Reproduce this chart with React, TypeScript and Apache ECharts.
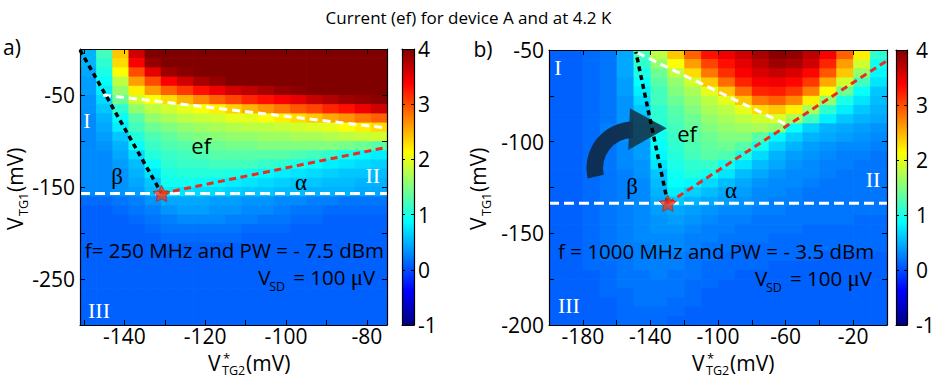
import React, { useEffect, useRef } from 'react';
import * as echarts from 'echarts';

const FONT = '"Open Sans", "Noto Sans", sans-serif';
const SERIF = '"Liberation Serif", "DejaVu Serif", serif';

const TITLE = 'Current (ef) for device A and at 4.2 K';

// colour scale (MATLAB jet)
const C_RANGE = [-1, 4];
const C_TICKS = [0, 1, 2, 3];
const C_LABELS = [-1, 0, 1, 2, 3, 4];
const JET = ['#000080', '#0000ff', '#0080ff', '#00ffff', '#80ff80', '#ffff00', '#ff8000', '#ff0000', '#800000'];

// ---------------- panel a ----------------
const A_X_RANGE = [-151, -75];
const A_Y_RANGE = [-300, 0];
const A_X_TICKS = [-150, -140, -130, -120, -110, -100, -90, -80];
const A_X_LABELS = [-140, -120, -100, -80];
const A_Y_TICKS = [-250, -200, -150, -100, -50];
const A_Y_LABELS = [-250, -150, -50];
const A_CELL_X = [-149, -145, -141, -137, -133, -129, -125, -121, -117, -113, -109, -105, -101, -97, -93, -89, -85, -81, -77];
const A_CELL_Y = [-5, -15, -25, -35, -45, -55, -65, -75, -85, -95, -105, -115, -125, -135, -145, -155, -165, -175, -185, -195, -205, -215, -225, -235, -245, -255, -265, -275, -285, -295];
const A_CELL_SIZE = [4, 10];
const A_CURRENT = [
  [0.5, 1.2, 2.4, 3.6, 4, 4, 4, 4, 4, 4, 4, 4, 4, 4, 4, 4, 4, 4, 4],
  [0.5, 1.1, 2.3, 3.4, 3.9, 4, 4, 4, 4, 4, 4, 4, 4, 4, 4, 4, 4, 4, 4],
  [0.45, 1.0, 2.1, 3.0, 3.5, 3.85, 3.95, 4, 4, 4, 4, 4, 4, 4, 4, 4, 4, 4, 4],
  [0.4, 0.9, 1.8, 2.6, 3.0, 3.4, 3.6, 3.8, 3.9, 4, 4, 4, 4, 4, 4, 4, 4, 4, 4],
  [0.4, 0.8, 1.6, 2.2, 2.6, 2.9, 3.1, 3.3, 3.45, 3.6, 3.7, 3.8, 3.9, 3.95, 4, 4, 4, 4, 4],
  [0.35, 0.7, 1.4, 1.9, 2.1, 2.3, 2.5, 2.7, 2.9, 3.05, 3.2, 3.3, 3.4, 3.5, 3.65, 3.75, 3.85, 3.9, 3.95],
  [0.35, 0.6, 1.1, 1.6, 1.8, 1.9, 2.0, 2.1, 2.2, 2.35, 2.5, 2.65, 2.8, 2.95, 3.05, 3.2, 3.3, 3.45, 3.6],
  [0.3, 0.5, 0.9, 1.3, 1.6, 1.7, 1.8, 1.85, 1.9, 2.0, 2.0, 2.1, 2.2, 2.3, 2.4, 2.55, 2.65, 2.8, 2.9],
  [0.3, 0.45, 0.8, 1.2, 1.4, 1.5, 1.6, 1.65, 1.7, 1.75, 1.8, 1.8, 1.85, 1.9, 1.95, 2.0, 2.1, 2.2, 2.3],
  [0.3, 0.4, 0.6, 1.05, 1.25, 1.35, 1.45, 1.5, 1.55, 1.6, 1.6, 1.65, 1.65, 1.7, 1.7, 1.75, 1.8, 1.85, 1.9],
  [0.3, 0.35, 0.5, 0.9, 1.15, 1.25, 1.3, 1.35, 1.4, 1.45, 1.45, 1.5, 1.5, 1.5, 1.5, 1.5, 1.45, 1.4, 1.3],
  [0.3, 0.3, 0.45, 0.7, 1.05, 1.15, 1.2, 1.25, 1.3, 1.3, 1.3, 1.3, 1.3, 1.25, 1.2, 1.1, 0.95, 0.85, 0.8],
  [0.3, 0.3, 0.4, 0.55, 0.9, 1.1, 1.15, 1.15, 1.2, 1.2, 1.2, 1.15, 1.1, 1.0, 0.9, 0.8, 0.75, 0.7, 0.65],
  [0.3, 0.3, 0.35, 0.5, 0.75, 1.0, 1.05, 1.05, 1.05, 1.0, 0.95, 0.85, 0.8, 0.75, 0.7, 0.65, 0.6, 0.6, 0.55],
  [0.3, 0.3, 0.35, 0.45, 0.6, 0.95, 0.95, 0.9, 0.85, 0.8, 0.75, 0.7, 0.65, 0.6, 0.6, 0.55, 0.55, 0.5, 0.5],
  [0.3, 0.3, 0.35, 0.4, 0.55, 0.8, 0.75, 0.7, 0.7, 0.65, 0.6, 0.6, 0.55, 0.55, 0.5, 0.5, 0.5, 0.45, 0.45],
  [0.15, 0.15, 0.2, 0.25, 0.35, 0.45, 0.45, 0.45, 0.4, 0.4, 0.35, 0.35, 0.3, 0.3, 0.25, 0.25, 0.2, 0.2, 0.2],
  [0.1, 0.1, 0.15, 0.2, 0.25, 0.35, 0.4, 0.4, 0.35, 0.35, 0.3, 0.3, 0.25, 0.2, 0.2, 0.15, 0.15, 0.15, 0.15],
  [0.1, 0.1, 0.1, 0.15, 0.2, 0.25, 0.3, 0.3, 0.3, 0.25, 0.25, 0.2, 0.2, 0.15, 0.15, 0.1, 0.1, 0.1, 0.1],
  [0.1, 0.1, 0.1, 0.1, 0.15, 0.2, 0.2, 0.2, 0.2, 0.2, 0.15, 0.15, 0.15, 0.1, 0.1, 0.1, 0.1, 0.1, 0.1],
  [0.1, 0.1, 0.1, 0.1, 0.1, 0.15, 0.15, 0.15, 0.15, 0.15, 0.1, 0.1, 0.1, 0.1, 0.1, 0.1, 0.1, 0.1, 0.1],
  [0.1, 0.1, 0.1, 0.1, 0.1, 0.1, 0.1, 0.1, 0.1, 0.1, 0.1, 0.1, 0.1, 0.1, 0.1, 0.1, 0.1, 0.1, 0.1],
  [0.1, 0.1, 0.1, 0.1, 0.1, 0.1, 0.1, 0.1, 0.1, 0.1, 0.1, 0.1, 0.1, 0.1, 0.1, 0.1, 0.1, 0.1, 0.1],
  [0.1, 0.1, 0.1, 0.1, 0.1, 0.1, 0.1, 0.1, 0.1, 0.1, 0.1, 0.1, 0.1, 0.1, 0.1, 0.1, 0.1, 0.1, 0.1],
  [0.1, 0.1, 0.1, 0.1, 0.1, 0.1, 0.1, 0.1, 0.1, 0.1, 0.1, 0.1, 0.1, 0.1, 0.1, 0.1, 0.1, 0.1, 0.1],
  [0.1, 0.1, 0.1, 0.1, 0.1, 0.1, 0.1, 0.1, 0.1, 0.1, 0.1, 0.1, 0.1, 0.1, 0.1, 0.1, 0.1, 0.1, 0.1],
  [0.1, 0.1, 0.1, 0.1, 0.1, 0.1, 0.1, 0.1, 0.1, 0.1, 0.1, 0.1, 0.1, 0.1, 0.1, 0.1, 0.1, 0.1, 0.1],
  [0.1, 0.1, 0.1, 0.1, 0.1, 0.1, 0.1, 0.1, 0.1, 0.1, 0.1, 0.1, 0.1, 0.1, 0.1, 0.1, 0.1, 0.1, 0.1],
  [0.1, 0.1, 0.1, 0.1, 0.1, 0.1, 0.1, 0.1, 0.1, 0.1, 0.1, 0.1, 0.1, 0.1, 0.1, 0.1, 0.1, 0.1, 0.1],
  [0.1, 0.1, 0.1, 0.1, 0.1, 0.1, 0.1, 0.1, 0.1, 0.1, 0.1, 0.1, 0.1, 0.1, 0.1, 0.1, 0.1, 0.1, 0.1],
];
const A_BETA = [[-151, -1], [-130.8, -157]];
const A_UPPER = [[-145.3, -50], [-75, -85.9]];
const A_ALPHA = [[-130.8, -157], [-75, -106.8]];
const A_FLOOR = [[-151, -157], [-75, -157]];
const A_STAR = [[-130.8, -157]];

// ---------------- panel b ----------------
const B_X_RANGE = [-200, 0];
const B_Y_RANGE = [-200, -50];
const B_X_TICKS = [-180, -160, -140, -120, -100, -80, -60, -40, -20];
const B_X_LABELS = [-180, -140, -100, -60, -20];
const B_Y_TICKS = [-175, -150, -125, -100, -75];
const B_Y_LABELS = [-200, -150, -100, -50];
const B_CELL_X = [-195, -185, -175, -165, -155, -145, -135, -125, -115, -105, -95, -85, -75, -65, -55, -45, -35, -25, -15, -5];
const B_CELL_Y = [-52.5, -57.5, -62.5, -67.5, -72.5, -77.5, -82.5, -87.5, -92.5, -97.5, -102.5, -107.5, -112.5, -117.5, -122.5, -127.5, -132.5, -137.5, -142.5, -147.5, -152.5, -157.5, -162.5, -167.5, -172.5, -177.5, -182.5, -187.5, -192.5, -197.5];
const B_CELL_SIZE = [10, 5];
const B_CURRENT = [
  [0.1, 0.1, 0.15, 0.2, 0.45, 1.2, 1.8, 2.4, 2.9, 3.3, 3.45, 3.6, 3.8, 3.95, 3.9, 3.7, 3.4, 2.9, 2.2, 1.1],
  [0.1, 0.1, 0.15, 0.2, 0.45, 1.1, 1.6, 2.1, 2.6, 3.05, 3.3, 3.5, 3.7, 3.85, 3.8, 3.6, 3.2, 2.6, 1.9, 0.95],
  [0.1, 0.1, 0.15, 0.2, 0.45, 1.0, 1.4, 1.8, 2.3, 2.8, 3.15, 3.4, 3.55, 3.65, 3.55, 3.35, 2.95, 2.4, 1.6, 0.85],
  [0.1, 0.1, 0.15, 0.2, 0.4, 0.9, 1.3, 1.6, 1.9, 2.4, 2.85, 3.2, 3.4, 3.45, 3.35, 3.1, 2.55, 1.9, 1.2, 0.75],
  [0.1, 0.1, 0.15, 0.2, 0.4, 0.8, 1.2, 1.5, 1.7, 2.0, 2.4, 2.85, 3.2, 3.25, 3.1, 2.75, 2.1, 1.4, 0.9, 0.6],
  [0.1, 0.1, 0.15, 0.2, 0.35, 0.7, 1.2, 1.4, 1.6, 1.8, 2.0, 2.4, 2.8, 2.9, 2.7, 2.2, 1.6, 1.0, 0.75, 0.55],
  [0.1, 0.1, 0.15, 0.2, 0.35, 0.6, 1.1, 1.3, 1.5, 1.7, 1.8, 2.0, 2.3, 2.4, 2.2, 1.7, 1.1, 0.8, 0.6, 0.5],
  [0.1, 0.1, 0.15, 0.2, 0.35, 0.55, 1.1, 1.25, 1.4, 1.6, 1.7, 1.8, 1.9, 1.95, 1.7, 1.2, 0.8, 0.6, 0.5, 0.45],
  [0.1, 0.1, 0.15, 0.25, 0.35, 0.5, 1.0, 1.2, 1.35, 1.5, 1.6, 1.65, 1.7, 1.6, 0.9, 0.65, 0.5, 0.45, 0.4, 0.35],
  [0.1, 0.1, 0.15, 0.25, 0.35, 0.45, 0.95, 1.15, 1.3, 1.4, 1.5, 1.5, 1.3, 0.85, 0.65, 0.5, 0.45, 0.4, 0.35, 0.3],
  [0.1, 0.1, 0.15, 0.2, 0.3, 0.4, 0.9, 1.1, 1.25, 1.35, 1.4, 1.3, 0.95, 0.65, 0.5, 0.4, 0.35, 0.3, 0.3, 0.25],
  [0.1, 0.1, 0.15, 0.2, 0.3, 0.4, 0.85, 1.05, 1.2, 1.3, 1.25, 1.0, 0.7, 0.5, 0.4, 0.35, 0.3, 0.25, 0.25, 0.2],
  [0.1, 0.1, 0.15, 0.2, 0.3, 0.35, 0.75, 1.0, 1.1, 1.15, 0.95, 0.75, 0.55, 0.45, 0.35, 0.3, 0.25, 0.25, 0.2, 0.2],
  [0.1, 0.1, 0.15, 0.2, 0.25, 0.35, 0.6, 0.95, 1.05, 0.95, 0.75, 0.55, 0.45, 0.35, 0.3, 0.3, 0.25, 0.2, 0.2, 0.2],
  [0.1, 0.1, 0.15, 0.2, 0.25, 0.3, 0.55, 0.9, 0.85, 0.7, 0.55, 0.45, 0.35, 0.3, 0.3, 0.25, 0.2, 0.2, 0.2, 0.2],
  [0.1, 0.1, 0.15, 0.2, 0.25, 0.3, 0.5, 0.8, 0.65, 0.55, 0.45, 0.4, 0.3, 0.3, 0.25, 0.2, 0.2, 0.2, 0.2, 0.2],
  [0.1, 0.1, 0.15, 0.2, 0.25, 0.3, 0.45, 0.6, 0.5, 0.45, 0.4, 0.35, 0.3, 0.25, 0.25, 0.2, 0.2, 0.2, 0.2, 0.2],
  [0.1, 0.1, 0.15, 0.2, 0.25, 0.3, 0.4, 0.45, 0.4, 0.35, 0.3, 0.3, 0.25, 0.25, 0.2, 0.2, 0.2, 0.2, 0.2, 0.2],
  [0.1, 0.1, 0.15, 0.2, 0.25, 0.3, 0.35, 0.4, 0.35, 0.3, 0.25, 0.25, 0.2, 0.2, 0.2, 0.2, 0.2, 0.2, 0.15, 0.15],
  [0.1, 0.1, 0.15, 0.2, 0.25, 0.3, 0.35, 0.35, 0.3, 0.25, 0.25, 0.2, 0.2, 0.2, 0.2, 0.15, 0.15, 0.15, 0.15, 0.15],
  [0.1, 0.1, 0.15, 0.2, 0.25, 0.3, 0.3, 0.3, 0.25, 0.25, 0.2, 0.2, 0.2, 0.15, 0.15, 0.15, 0.15, 0.15, 0.15, 0.15],
  [0.1, 0.1, 0.15, 0.2, 0.25, 0.25, 0.3, 0.3, 0.25, 0.2, 0.2, 0.15, 0.15, 0.15, 0.15, 0.15, 0.15, 0.15, 0.15, 0.15],
  [0.1, 0.1, 0.15, 0.2, 0.2, 0.25, 0.25, 0.25, 0.2, 0.2, 0.15, 0.15, 0.15, 0.15, 0.15, 0.15, 0.1, 0.1, 0.1, 0.1],
  [0.1, 0.1, 0.15, 0.15, 0.2, 0.25, 0.25, 0.25, 0.2, 0.15, 0.15, 0.15, 0.15, 0.1, 0.1, 0.1, 0.1, 0.1, 0.1, 0.1],
  [0.1, 0.1, 0.1, 0.15, 0.2, 0.2, 0.25, 0.2, 0.2, 0.15, 0.15, 0.1, 0.1, 0.1, 0.1, 0.1, 0.1, 0.1, 0.1, 0.1],
  [0.1, 0.1, 0.1, 0.15, 0.2, 0.2, 0.2, 0.2, 0.15, 0.15, 0.1, 0.1, 0.1, 0.1, 0.1, 0.1, 0.1, 0.1, 0.1, 0.1],
  [0.1, 0.1, 0.1, 0.15, 0.15, 0.2, 0.2, 0.2, 0.15, 0.1, 0.1, 0.1, 0.1, 0.1, 0.1, 0.1, 0.1, 0.1, 0.1, 0.1],
  [0.1, 0.1, 0.1, 0.1, 0.15, 0.2, 0.2, 0.15, 0.15, 0.1, 0.1, 0.1, 0.1, 0.1, 0.1, 0.1, 0.1, 0.1, 0.1, 0.1],
  [0.1, 0.1, 0.1, 0.1, 0.15, 0.15, 0.15, 0.15, 0.1, 0.1, 0.1, 0.1, 0.1, 0.1, 0.1, 0.1, 0.1, 0.1, 0.1, 0.1],
  [0.1, 0.1, 0.1, 0.1, 0.15, 0.15, 0.15, 0.1, 0.1, 0.1, 0.1, 0.1, 0.1, 0.1, 0.1, 0.1, 0.1, 0.1, 0.1, 0.1],
];
const B_FLOOR = [[-200, -133.6], [0, -133.6]];
const B_BETA = [[-129.7, -133.6], [-148.6, -51]];
const B_UPPER = [[-147.8, -51.5], [-59.1, -90.9]];
const B_ALPHA = [[-129.7, -133.6], [0, -55.8]];
const B_STAR = [[-129.7, -133.6]];

// annotation anchors (data coordinates)
const A_NOTES = {
  ef: [-121, -104.3], beta: [-141.8, -139], alpha: [-96.3, -144.6],
  I: [-149.3, -77.2], II: [-78.5, -137], III: [-146.3, -283.7],
  freq: [-149.8, -218.5], vsd: [-106.9, -248.2],
};
const B_NOTES = {
  ef: [-118.3, -95.3], beta: [-150.9, -124.7], alpha: [-92.3, -126.9],
  I: [-194.7, -59.8], II: [-8.3, -120.9], III: [-188.2, -189.1],
  freq: [-194.7, -159.6], vsd: [-78.1, -174.4],
  arrowCenter: [-150.3, -114.4],
  arrowHead: [[-152.1, -81.8], [-130.4, -92.7], [-153.1, -104.6]],
};

const STAR_PATH = 'path://M0,-10L2.94,-4.05L9.51,-3.09L4.76,1.55L5.88,8.09L0,5L-5.88,8.09L-4.76,1.55L-9.51,-3.09L-2.94,-4.05Z';

function cells(xs: number[], ys: number[], rows: number[][]) {
  const out: number[][] = [];
  rows.forEach((row, r) => row.forEach((v, c) => out.push([xs[c], ys[r], v])));
  return out;
}

function heatSeries(xi: number, yi: number, xs: number[], ys: number[], rows: number[][], size: number[]) {
  const dx = size[0], dy = size[1];
  return {
    type: 'custom', xAxisIndex: xi, yAxisIndex: yi, silent: true, clip: true, z: 2,
    encode: { x: 0, y: 1 },
    data: cells(xs, ys, rows),
    renderItem: (params: any, api: any) => {
      const x = api.value(0), y = api.value(1);
      const p0 = api.coord([x - dx / 2, y + dy / 2]);
      const p1 = api.coord([x + dx / 2, y - dy / 2]);
      return {
        type: 'rect',
        shape: { x: p0[0], y: p0[1], width: p1[0] - p0[0] + 0.7, height: p1[1] - p0[1] + 0.7 },
        style: { fill: api.visual('color') },
      };
    },
  };
}

function colorbarSeries(xi: number, yi: number) {
  return {
    type: 'custom', xAxisIndex: xi, yAxisIndex: yi, silent: true, z: 2,
    encode: { x: [0, 2], y: [1, 3] },
    data: [[0, C_RANGE[0], 1, C_RANGE[1]]],
    renderItem: (params: any, api: any) => {
      const p0 = api.coord([api.value(0), api.value(3)]);
      const p1 = api.coord([api.value(2), api.value(1)]);
      return {
        type: 'rect',
        shape: { x: p0[0], y: p0[1], width: p1[0] - p0[0], height: p1[1] - p0[1] },
        style: {
          fill: new echarts.graphic.LinearGradient(0, 1, 0, 0,
            JET.map((c, i) => ({ offset: i / (JET.length - 1), color: c }))),
        },
      };
    },
  };
}

function dashed(data: number[][], color: string, dash: number[], width: number, xi: number, yi: number) {
  return {
    type: 'line', data, xAxisIndex: xi, yAxisIndex: yi, symbol: 'none', silent: true, z: 4,
    lineStyle: { color, width, type: dash, cap: 'butt' },
  };
}

function star(data: number[][], xi: number, yi: number) {
  return {
    type: 'scatter', data, xAxisIndex: xi, yAxisIndex: yi, silent: true, z: 5,
    symbol: STAR_PATH, symbolSize: 17, symbolKeepAspect: true,
    itemStyle: { color: '#f03a1c', borderColor: '#b81a0c', borderWidth: 0.8 },
  };
}

function valAxis(gridIndex: number, position: string, range: number[], o: any = {}) {
  const a: any = {
    type: 'value', gridIndex, position, min: range[0], max: range[1], z: 10,
    axisLine: { show: true, onZero: false, lineStyle: { color: '#000', width: 1.2 } },
    axisTick: { show: !!o.ticks, inside: true, length: o.tickLen || 5, lineStyle: { color: '#000', width: 1 } },
    axisLabel: { show: !!o.labels, color: '#000', fontSize: 21, lineHeight: 21, fontFamily: FONT, margin: o.margin ?? 4 },
    splitLine: { show: false },
  };
  if (o.ticks) a.axisTick.customValues = o.ticks;
  if (o.labels) a.axisLabel.customValues = o.labels;
  return a;
}

function buildOption() {
  const gridBase = { containLabel: false, outerBoundsMode: 'none', show: false };
  return {
    animation: false,
    backgroundColor: '#ffffff',
    title: {
      text: TITLE, left: 'center', top: 4,
      textStyle: { fontFamily: FONT, fontSize: 17, fontWeight: 'normal', color: '#000' },
    },
    grid: [
      { ...gridBase, left: 80, top: 49, width: 307, height: 276 },
      { ...gridBase, left: 549, top: 50, width: 338, height: 275 },
      { ...gridBase, left: 402, top: 49, width: 12, height: 276 },
      { ...gridBase, left: 896, top: 50, width: 11, height: 275 },
    ],
    xAxis: [
      valAxis(0, 'bottom', A_X_RANGE, { ticks: A_X_TICKS, labels: A_X_LABELS, margin: 0 }),
      valAxis(0, 'top', A_X_RANGE, { ticks: A_X_TICKS }),
      valAxis(1, 'bottom', B_X_RANGE, { ticks: B_X_TICKS, labels: B_X_LABELS, margin: 0 }),
      valAxis(1, 'top', B_X_RANGE, { ticks: B_X_TICKS }),
      valAxis(2, 'bottom', [0, 1], {}),
      valAxis(2, 'top', [0, 1], {}),
      valAxis(3, 'bottom', [0, 1], {}),
      valAxis(3, 'top', [0, 1], {}),
    ],
    yAxis: [
      valAxis(0, 'left', A_Y_RANGE, { ticks: A_Y_TICKS, labels: A_Y_LABELS, margin: 5 }),
      valAxis(0, 'right', A_Y_RANGE, { ticks: A_Y_TICKS }),
      valAxis(1, 'left', B_Y_RANGE, { ticks: B_Y_TICKS, labels: B_Y_LABELS, margin: 5 }),
      valAxis(1, 'right', B_Y_RANGE, { ticks: B_Y_TICKS }),
      valAxis(2, 'left', C_RANGE, { ticks: C_TICKS, tickLen: 3 }),
      valAxis(2, 'right', C_RANGE, { ticks: C_TICKS, labels: C_LABELS, tickLen: 3, margin: 4 }),
      valAxis(3, 'left', C_RANGE, { ticks: C_TICKS, tickLen: 3 }),
      valAxis(3, 'right', C_RANGE, { ticks: C_TICKS, labels: C_LABELS, tickLen: 3, margin: 9 }),
    ],
    visualMap: [{
      type: 'continuous', show: false, min: C_RANGE[0], max: C_RANGE[1], dimension: 2,
      seriesIndex: [0, 1], inRange: { color: JET },
    }],
    series: [
      heatSeries(0, 0, A_CELL_X, A_CELL_Y, A_CURRENT, A_CELL_SIZE),
      heatSeries(2, 2, B_CELL_X, B_CELL_Y, B_CURRENT, B_CELL_SIZE),
      colorbarSeries(4, 4),
      colorbarSeries(6, 6),
      dashed(A_UPPER, '#ffffff', [8, 5], 3, 0, 0),
      dashed(A_FLOOR, '#ffffff', [10, 5], 3, 0, 0),
      dashed(A_BETA, '#000000', [5, 4], 3.5, 0, 0),
      dashed(A_ALPHA, '#ee2b1f', [7, 4.5], 3, 0, 0),
      star(A_STAR, 0, 0),
      dashed(B_UPPER, '#ffffff', [8, 5], 3, 2, 2),
      dashed(B_FLOOR, '#ffffff', [10, 5], 3, 2, 2),
      dashed(B_BETA, '#000000', [5, 4], 3.5, 2, 2),
      dashed(B_ALPHA, '#ee2b1f', [7, 4.5], 3, 2, 2),
      star(B_STAR, 2, 2),
    ],
  };
}

function txt(p: number[], text: string, size: number, extra: any = {}) {
  return {
    type: 'text', x: p[0], y: p[1], z: 100, silent: true,
    style: { text, fontSize: size, lineHeight: Math.round(size), fontFamily: FONT, fill: '#000', align: 'center', verticalAlign: 'middle', ...extra },
  };
}

function piece(x: number, y: number, text: string, size: number, extra: any = {}) {
  return {
    type: 'text', x, y, z: 100, silent: true,
    style: { text, fontSize: size, lineHeight: Math.round(size), fontFamily: FONT, fill: '#000', verticalAlign: 'middle', ...extra },
  };
}

function axisName(x: number, y: number, vertical: boolean, sub: string, withStar: boolean) {
  const children: any[] = [piece(0, 0, 'V', 21), piece(38, 0, '(mV)', 21)];
  if (withStar) {
    // superscript * stacked above the subscript, as one two-line text
    children.push({
      type: 'text', x: 14, y: 1, z: 100, silent: true,
      style: {
        text: '{s|*}\n{t|' + sub + '}', verticalAlign: 'middle', align: 'left',
        rich: {
          s: { fontSize: 13, lineHeight: 12, fontFamily: FONT, fill: '#000', padding: [0, 0, 0, 1] },
          t: { fontSize: 12.5, lineHeight: 12, fontFamily: FONT, fill: '#000' },
        },
      },
    });
  } else {
    children.push(piece(14, 8, sub, 12.5));
  }
  return { type: 'group', x, y, rotation: vertical ? Math.PI / 2 : 0, z: 100, silent: true, children };
}

function panelNotes(conv: (p: number[]) => number[], n: any, freqText: string) {
  const white = { fill: '#ffffff', fontFamily: SERIF };
  const v = conv(n.vsd);
  return [
    txt(conv(n.ef), 'ef', 22),
    txt(conv(n.beta), 'β', 23, { fontFamily: SERIF }),
    txt(conv(n.alpha), 'α', 23, { fontFamily: SERIF }),
    txt(conv(n.I), 'I', 22, white),
    txt(conv(n.II), 'II', 22, white),
    txt(conv(n.III), 'III', 22, white),
    txt(conv(n.freq), freqText, 20.5, { align: 'left' }),
    {
      type: 'group', x: v[0], y: v[1], z: 100, silent: true,
      children: [
        piece(0, 0, 'V', 20.5),
        piece(11, 9, 'SD', 12.5),
        {
          type: 'text', x: 35, y: 0, z: 100, silent: true,
          style: {
            text: '{m|= 100 }{g|μ}{m|V}', verticalAlign: 'middle',
            rich: {
              m: { fontSize: 20.5, lineHeight: 21, fontFamily: FONT, fill: '#000' },
              g: { fontSize: 23, lineHeight: 21, fontFamily: SERIF, fill: '#000' },
            },
          },
        },
      ],
    },
  ];
}

function buildGraphics(pa: (p: number[]) => number[], pb: (p: number[]) => number[]) {
  const c = pb(B_NOTES.arrowCenter);
  const head = B_NOTES.arrowHead.map(pb);
  return [
    txt([12, 47], 'a)', 21),
    txt([483, 49], 'b)', 21),
    axisName(15, 230, true, 'TG1', false),
    axisName(478, 230, true, 'TG1', false),
    axisName(208, 363, false, 'TG2', true),
    axisName(692, 363, false, 'TG2', true),
    ...panelNotes(pa, A_NOTES, 'f= 250 MHz and PW = - 7.5 dBm'),
    ...panelNotes(pb, B_NOTES, 'f = 1000 MHz and PW = - 3.5 dBm'),
    {
      type: 'sector', z: 3, silent: true,
      shape: { cx: c[0], cy: c[1], r0: 30, r: 46.5, startAngle: (167 * Math.PI) / 180, endAngle: 1.5 * Math.PI, clockwise: true },
      style: { fill: '#0f2d4e', opacity: 0.96 },
    },
    {
      type: 'polygon', z: 3, silent: true,
      shape: { points: head },
      style: { fill: '#12394f', opacity: 0.9 },
    },
  ];
}

export default function App() {
  const ref = useRef<HTMLDivElement>(null);
  useEffect(() => {
    const chart = echarts.init(ref.current as HTMLDivElement, null, { renderer: 'svg' });
    chart.setOption(buildOption() as any);
    const pa = (p: number[]) => chart.convertToPixel({ seriesIndex: 0 }, p) as number[];
    const pb = (p: number[]) => chart.convertToPixel({ seriesIndex: 1 }, p) as number[];
    chart.setOption({ graphic: buildGraphics(pa, pb) } as any);
    return () => chart.dispose();
  }, []);
  return <div ref={ref} style={{ position: 'fixed', left: 0, top: 0, width: 937, height: 380 }} />;
}
